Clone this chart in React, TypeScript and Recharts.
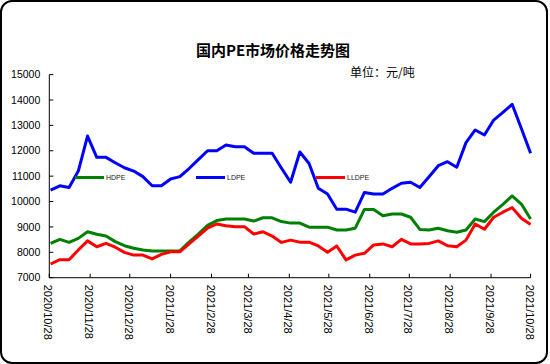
import React from 'react';
import { LineChart, Line, XAxis, YAxis, Legend } from 'recharts';

const dates = [
  '2020/10/29', '2020/11/05', '2020/11/12', '2020/11/19', '2020/11/26',
  '2020/12/03', '2020/12/10', '2020/12/17', '2020/12/24', '2020/12/31',
  '2021/01/07', '2021/01/14', '2021/01/21', '2021/01/28',
  '2021/02/04', '2021/02/11', '2021/02/18', '2021/02/25',
  '2021/03/04', '2021/03/11', '2021/03/18', '2021/03/25',
  '2021/04/01', '2021/04/08', '2021/04/15', '2021/04/22', '2021/04/29',
  '2021/05/06', '2021/05/13', '2021/05/20', '2021/05/27',
  '2021/06/03', '2021/06/10', '2021/06/17', '2021/06/24',
  '2021/07/01', '2021/07/08', '2021/07/15', '2021/07/22', '2021/07/29',
  '2021/08/05', '2021/08/12', '2021/08/19', '2021/08/26',
  '2021/09/02', '2021/09/09', '2021/09/16', '2021/09/23', '2021/09/30',
  '2021/10/07', '2021/10/14', '2021/10/21', '2021/10/28',
];

const hdpe = [
  8350, 8510, 8390, 8550, 8810, 8710, 8640, 8420, 8260, 8160,
  8090, 8050, 8050, 8050, 8060, 8400, 8720, 9060, 9250, 9310,
  9310, 9310, 9230, 9360, 9360, 9210, 9150, 9150, 8990, 8990,
  8990, 8880, 8880, 8950, 9690, 9690, 9440, 9510, 9510, 9380,
  8900, 8880, 8950, 8850, 8790, 8880, 9310, 9210, 9580, 9890,
  10220, 9900, 9310,
];

const ldpe = [
  10450, 10620, 10550, 11200, 12580, 11740, 11740, 11530, 11330, 11200,
  10980, 10620, 10620, 10890, 10980, 11300, 11650, 12000, 12000, 12230,
  12160, 12160, 11900, 11900, 11900, 11320, 10760, 11950, 11500, 10520,
  10300, 9700, 9700, 9580, 10360, 10300, 10300, 10520, 10720, 10760,
  10550, 10980, 11410, 11570, 11350, 12320, 12820, 12620, 13210, 13510,
  13830, 12880, 11900,
];

const lldpe = [
  7540, 7710, 7710, 8090, 8450, 8220, 8350, 8200, 8000, 7890,
  7890, 7740, 7920, 8020, 8020, 8330, 8640, 8950, 9115, 9050,
  9010, 9010, 8720, 8810, 8640, 8390, 8480, 8400, 8400, 8250,
  8000, 8250, 7700, 7890, 7960, 8290, 8330, 8220, 8510, 8330,
  8330, 8350, 8450, 8260, 8220, 8480, 9115, 8910, 9380, 9580,
  9760, 9340, 9100,
];

const xTickLabels = [
  '2020/10/28', '2020/11/28', '2020/12/28', '2021/1/28', '2021/2/28',
  '2021/3/28', '2021/4/28', '2021/5/28', '2021/6/28', '2021/7/28',
  '2021/8/28', '2021/9/28', '2021/10/28',
];

const yTicks = [7000, 8000, 9000, 10000, 11000, 12000, 13000, 14000, 15000];

const seriesNames = ['HDPE', 'LDPE', 'LLDPE'];
const seriesColors = ['#008000', '#0000ff', '#ff0000'];

const toDay = (s: string) => {
  const [y, m, d] = s.split('/').map(Number);
  return Date.UTC(y, m - 1, d) / 86400000;
};

const data = dates.map((d, i) => ({
  t: toDay(d),
  HDPE: hdpe[i],
  LDPE: ldpe[i],
  LLDPE: lldpe[i],
}));

const xTicks = xTickLabels.map(toDay);
const labelByDay = new Map(xTickLabels.map((l) => [toDay(l), l]));

const X_MARGIN = 7;
const Y_MARGIN = 9;

const XTick = (props: any) => {
  const { x, y, payload } = props;
  const label = labelByDay.get(payload.value) ?? '';
  return (
    <g>
      <line x1={x} x2={x} y1={y - X_MARGIN} y2={y - X_MARGIN - 4} stroke="#000" strokeWidth={1} />
      <text
        x={0}
        y={0}
        transform={`translate(${x - 1},${y}) rotate(90)`}
        textAnchor="start"
        dy="0.35em"
        fontSize={11}
        fontFamily="'Liberation Sans', Arial, sans-serif"
        fill="#000"
      >
        {label}
      </text>
    </g>
  );
};

const YTick = (props: any) => {
  const { x, y, payload } = props;
  return (
    <g>
      <line x1={x + Y_MARGIN} x2={x + Y_MARGIN + 4} y1={y} y2={y} stroke="#000" strokeWidth={1} />
      <text
        x={x}
        y={y}
        textAnchor="end"
        dy="0.35em"
        fontSize={10.5}
        fontFamily="'Liberation Sans', Arial, sans-serif"
        fill="#000"
      >
        {payload.value}
      </text>
    </g>
  );
};

const legendLefts = [75, 196, 316];

const renderLegend = (props: any) => {
  const payload = props.payload || [];
  return (
    <div style={{ position: 'relative', width: 550, height: 10 }}>
      {payload.map((p: any, i: number) => (
        <div
          key={p.value}
          style={{
            position: 'absolute',
            left: legendLefts[i],
            top: 0,
            height: 10,
            display: 'flex',
            alignItems: 'center',
          }}
        >
          <div style={{ width: 29, height: 3, background: p.color }} />
          <span
            style={{
              fontSize: 7,
              marginLeft: 2,
              fontFamily: "'Liberation Sans', Arial, sans-serif",
              color: '#222',
              lineHeight: '10px',
            }}
          >
            {p.value}
          </span>
        </div>
      ))}
    </div>
  );
};

export default function App() {
  const seriesData = [hdpe, ldpe, lldpe];
  return (
    <div
      style={{
        position: 'absolute',
        left: 0,
        top: 0,
        width: 550,
        height: 364,
        background: '#fff',
        fontFamily: "'Liberation Sans', Arial, sans-serif",
      }}
    >
      <div
        style={{
          position: 'absolute',
          left: 0,
          top: 0,
          width: 548,
          height: 364,
          border: '2px solid #000',
          borderRadius: 12,
          boxSizing: 'border-box',
        }}
      />
      <div
        style={{
          position: 'absolute',
          left: 0,
          top: 40,
          width: 546,
          textAlign: 'center',
          fontSize: 15,
          fontWeight: 'bold',
          lineHeight: '20px',
          fontFamily: "'Noto Sans CJK SC', sans-serif",
        }}
      >
        国内PE市场价格走势图
      </div>
      <div
        style={{
          position: 'absolute',
          left: 350,
          top: 64,
          fontSize: 12,
          lineHeight: '16px',
          fontFamily: "'Noto Sans CJK SC', sans-serif",
        }}
      >
        单位：元/吨
      </div>
      <LineChart
        width={550}
        height={364}
        data={data}
        margin={{ top: 74.6, right: 19.4, bottom: 26.3, left: 9.3 }}
      >
        <XAxis
          dataKey="t"
          type="number"
          domain={[xTicks[0], xTicks[xTicks.length - 1]]}
          ticks={xTicks}
          interval={0}
          height={60}
          tickSize={0}
          tickMargin={X_MARGIN}
          tickLine={false}
          tick={<XTick />}
          axisLine={{ stroke: '#000', strokeWidth: 1 }}
        />
        <YAxis
          type="number"
          domain={[yTicks[0], yTicks[yTicks.length - 1]]}
          ticks={yTicks}
          interval={0}
          width={40}
          tickSize={0}
          tickMargin={Y_MARGIN}
          tickLine={false}
          tick={<YTick />}
          axisLine={{ stroke: '#000', strokeWidth: 1 }}
        />
        <Legend
          layout="horizontal"
          verticalAlign="middle"
          align="center"
          content={renderLegend}
          wrapperStyle={{ top: 172.5, left: 0, width: 550, height: 10 }}
        />
        {seriesNames.map((name, i) => (
          <Line
            key={name}
            type="linear"
            dataKey={name}
            name={name}
            stroke={seriesColors[i]}
            strokeWidth={3}
            strokeLinejoin="round"
            dot={false}
            activeDot={false}
            isAnimationActive={false}
            legendType="line"
          />
        ))}
      </LineChart>
    </div>
  );
}
